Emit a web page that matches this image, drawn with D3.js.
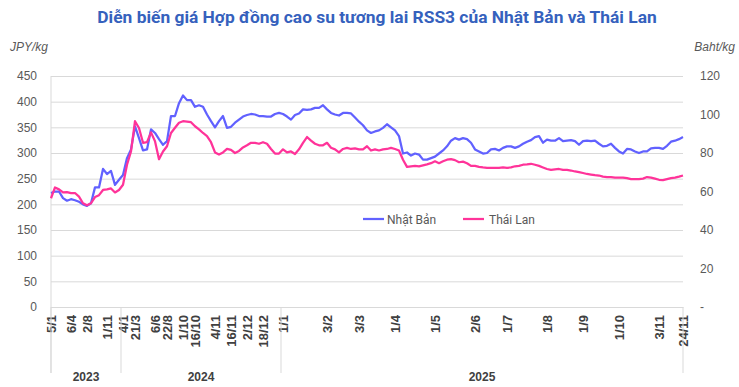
<!DOCTYPE html>
<html>
<head>
<meta charset="utf-8">
<title>Gia RSS3</title>
<script src="https://cdnjs.cloudflare.com/ajax/libs/d3/7.8.5/d3.min.js"></script>
<style>
body { margin: 0; background: #fff; }
svg text { font-family: "Liberation Sans", Arial, sans-serif; }
</style>
</head>
<body>
<div id="chart"></div>
<script>
// JPY/kg - Nhat Ban (truc trai)
var japan = [
  222,225,225,212,207,210,208,205,200,197,
  202,233,233,269,259,265,238,248,257,290,
  307,352,329,305,307,346,339,327,316,323,
  372,372,397,412,403,403,390,393,390,375,
  362,350,362,372,349,351,359,365,371,374,
  376,375,372,372,371,371,376,378,376,371,
  365,374,377,385,384,385,388,388,393,385,
  378,375,373,378,378,377,369,361,354,344,
  339,342,344,349,356,350,344,333,299,301,
  295,299,297,287,287,290,293,299,305,313,
  324,329,326,329,327,320,307,303,299,300,
  307,308,305,310,313,313,310,313,318,322,
  325,331,333,320,326,324,324,329,323,324,
  325,323,316,323,324,323,324,318,313,314,
  318,310,303,299,308,307,303,300,303,303,
  309,310,310,308,314,322,324,327,331
];
// Baht/kg - Thai Lan (truc phai)
var thai = [
  56.5,62.1,61.1,59.5,59.7,59.2,59.2,57.3,53.9,52.8,
  53.9,57.1,58.1,60.8,61.1,61.6,59.5,60.8,63.5,73.9,
  80.8,96.5,93.0,85.3,85.6,90.7,86.1,76.8,80.8,83.5,
  90.4,93.1,95.7,96.5,96.3,96.0,93.9,92.3,90.4,88.8,
  85.6,80.3,79.2,80.3,82.1,81.6,80.0,81.1,82.9,84.0,
  85.3,85.3,84.8,85.6,84.8,82.1,79.7,79.7,81.9,80.3,
  80.8,79.5,81.9,85.3,88.3,86.4,84.8,84.0,84.0,85.3,
  82.7,81.9,80.3,82.1,82.7,82.1,82.4,81.9,81.9,83.5,
  81.3,81.9,81.3,81.9,82.1,82.7,82.1,81.3,76.5,72.8,
  73.1,73.3,73.1,73.6,74.1,74.7,75.7,74.7,75.7,76.5,
  76.8,76.3,75.2,75.5,74.7,73.3,73.3,72.8,72.5,72.3,
  72.3,72.3,72.3,72.5,72.3,72.5,73.1,73.3,73.9,74.1,
  74.4,73.9,73.3,72.5,71.7,71.2,71.5,71.7,71.2,71.2,
  70.9,70.4,70.1,69.6,69.1,68.8,68.5,68.3,67.7,67.5,
  67.5,67.2,67.2,67.2,66.9,66.4,66.4,66.4,66.7,67.5,
  67.2,66.7,66.1,65.9,66.4,66.9,67.2,67.7,68.3
];

var tickLabels = ["5/1","6/4","2/8","1/11","4/1","21/3","6/6","22/8","1/10","16/10","4/11","16/11","2/12","18/12",
                  "1/1","3/2","3/3","1/4","1/5","2/6","1/7","1/8","1/9","1/10","3/11","24/11"];
var tickIndex = [0,5,9,14,18,21,26,29,33,36,41,45,49,53,58,69,77,86,96,106,114,124,133,142,152,158];
var years = ["2023","2024","2025"];
var yearStart = [0,18,58];
var leftTicks = [0,50,100,150,200,250,300,350,400,450];
var rightTicks = [0,20,40,60,80,100,120];
var seriesNames = ["Nhật Bản","Thái Lan"];
var colors = ["#6161ff","#ff3399"];

var width = 739, height = 387;
var pLeft = 51, pRight = 683, pTop = 76, pBottom = 307;

var svg = d3.select("#chart").append("svg")
  .attr("width", width)
  .attr("height", height);

var x = d3.scaleLinear().domain([0, japan.length - 1]).range([pLeft, pRight]);
var yL = d3.scaleLinear().domain([0, 450]).range([pBottom, pTop]);
var yR = d3.scaleLinear().domain([0, 120]).range([pBottom, pTop]);

// title
var title = svg.append("text")
  .attr("x", 377)
  .attr("y", 23)
  .attr("text-anchor", "middle")
  .style("font-family", "Roboto, sans-serif")
  .style("font-weight", "bold")
  .style("font-size", "16px")
  .style("fill", "#3561bd")
  .text("Diễn biến giá Hợp đồng cao su tương lai RSS3 của Nhật Bản và Thái Lan");
var tl = title.node().getComputedTextLength();
title.style("font-size", (16 * 560 / tl) + "px");

svg.append("text").attr("x", 10).attr("y", 51)
  .style("font-style", "italic").style("font-size", "12px").style("fill", "#595959")
  .text("JPY/kg");
svg.append("text").attr("x", 735).attr("y", 51).attr("text-anchor", "end")
  .style("font-style", "italic").style("font-size", "12px").style("fill", "#595959")
  .text("Baht/kg");

// left axis + gridlines
var gl = svg.append("g")
  .attr("transform", "translate(" + pLeft + ",0)")
  .call(d3.axisLeft(yL).tickValues(leftTicks).tickSize(-(pRight - pLeft)).tickPadding(14));
gl.select(".domain").remove();
gl.selectAll("line").attr("stroke", "#d9d9d9");
gl.selectAll("text").style("font-size", "12px").style("fill", "#595959").style("font-family", "Liberation Sans, Arial");

// right axis
var gr = svg.append("g")
  .attr("transform", "translate(" + pRight + ",0)")
  .call(d3.axisRight(yR).tickValues(rightTicks).tickSize(0).tickPadding(17)
    .tickFormat(function(d) { return d === 0 ? "-" : d; }));
gr.select(".domain").remove();
gr.selectAll("text").style("font-size", "12px").style("fill", "#595959").style("font-family", "Liberation Sans, Arial");

// vertical axis line on the left
svg.append("line")
  .attr("x1", pLeft).attr("x2", pLeft).attr("y1", pTop).attr("y2", 373)
  .attr("stroke", "#d9d9d9");

// x axis (dates)
var gx = svg.append("g")
  .attr("transform", "translate(0," + pBottom + ")")
  .call(d3.axisBottom(x).tickValues(tickIndex).tickSize(0)
    .tickFormat(function(d) { return tickLabels[tickIndex.indexOf(d)]; }));
gx.select(".domain").attr("stroke", "#d9d9d9");
gx.selectAll("text")
  .attr("transform", "rotate(-90)")
  .attr("text-anchor", "end")
  .attr("x", -8)
  .attr("y", 0)
  .attr("dy", "0.35em")
  .style("font-size", "13px")
  .style("font-weight", "bold")
  .style("fill", "#404040")
  .style("font-family", "Liberation Sans, Arial");

// year groups
var bounds = yearStart.map(function(s) { return s === 0 ? pLeft : x(s - 0.5); }).concat([pRight]);
svg.selectAll(".sep").data(bounds).enter().append("line")
  .attr("class", "sep")
  .attr("x1", function(d) { return d; }).attr("x2", function(d) { return d; })
  .attr("y1", pBottom).attr("y2", 373)
  .attr("stroke", "#d9d9d9");
svg.selectAll(".yr").data(years).enter().append("text")
  .attr("class", "yr")
  .attr("x", function(d, i) { return (bounds[i] + bounds[i + 1]) / 2; })
  .attr("y", 381)
  .attr("text-anchor", "middle")
  .style("font-size", "12px")
  .style("font-weight", "bold")
  .style("fill", "#404040")
  .text(function(d) { return d; });

// lines
var lineL = d3.line().x(function(d, i) { return x(i); }).y(function(d) { return yL(d); });
var lineR = d3.line().x(function(d, i) { return x(i); }).y(function(d) { return yR(d); });

svg.append("path").datum(japan)
  .attr("d", lineL).attr("fill", "none")
  .attr("stroke", colors[0]).attr("stroke-width", 2.25).attr("stroke-linejoin", "round");
svg.append("path").datum(thai)
  .attr("d", lineR).attr("fill", "none")
  .attr("stroke", colors[1]).attr("stroke-width", 2.25).attr("stroke-linejoin", "round");

// legend
var legX = [363, 463];
seriesNames.forEach(function(name, i) {
  svg.append("line")
    .attr("x1", legX[i]).attr("x2", legX[i] + 21)
    .attr("y1", 219).attr("y2", 219)
    .attr("stroke", colors[i]).attr("stroke-width", 2.25);
  svg.append("text")
    .attr("x", legX[i] + 24 + i * 2).attr("y", 223.5)
    .style("font-family", "Roboto, sans-serif")
    .style("font-size", "12px")
    .style("fill", "#595959")
    .text(name);
});
</script>
</body>
</html>
